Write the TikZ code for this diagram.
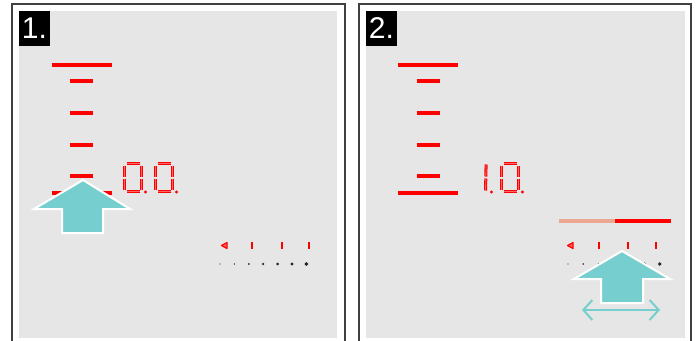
\documentclass[tikz,border=0pt]{standalone}
\usepackage{fontspec}
\setmainfont{Liberation Sans}
\usetikzlibrary{arrows.meta}

\definecolor{panelgray}{RGB}{230,230,230}
\definecolor{hintteal}{RGB}{118,207,206}
\definecolor{salmonbar}{RGB}{234,168,146}

\tikzset{
  frame/.style={draw=black!75, line width=1.5pt},
  screen/.style={fill=panelgray},
  stepnum/.style={fill=black, text=white, font=\fontsize{30}{30}\selectfont,
    inner sep=0pt, minimum width=31pt, minimum height=35pt},
  levelbar/.style={red, line width=4pt},
  seg/.style={draw=red, line width=1.1pt, double=red!60, double distance=0.8pt},
  tickmark/.style={red, line width=2pt},
  hint/.style={fill=hintteal, draw=white, line width=2pt, line join=miter},
  slide/.style={draw=hintteal, line width=2pt,
    {Straight Barb[length=9pt,width=20pt]}-{Straight Barb[length=9pt,width=20pt]}},
}

% seven-segment zero, top-left segment centre at (#1,#2)
\newcommand{\segzero}[2]{%
  \begin{scope}[shift={(#1,#2)}]
    \draw[seg] (2,0) -- (15,0);
    \draw[seg] (17,2) -- (17,13);
    \draw[seg] (17,15) -- (17,26);
    \draw[seg] (2,28) -- (15,28);
    \draw[seg] (0,15) -- (0,26);
    \draw[seg] (0,2) -- (0,13);
    \fill[red] (21,28.5) circle (1.6);
  \end{scope}}

% seven-segment one
\newcommand{\segone}[2]{%
  \begin{scope}[shift={(#1,#2)}]
    \draw[seg] (0.6,1) -- (0.3,13);
    \draw[seg] (0.3,15) -- (0,27);
    \fill[red] (6,28.5) circle (1.6);
  \end{scope}}

\begin{document}
\begin{tikzpicture}[x=1pt, y=-1pt]
    \useasboundingbox (0,0) rectangle (696,340);
    \clip (0,0) rectangle (696,340);

    % Panels
    \draw[frame] (12,4) rectangle (345,360);
    \fill[screen] (19,11) rectangle (337,338);
    \draw[frame] (359,4) rectangle (691,360);
    \fill[screen] (366,11) rectangle (685,338);
    \node[stepnum] (step1) at (34.5,28.5) {1.};
    \node[stepnum] (step2) at (381.5,28.5) {2.};

    % Level scale, panel 1
    \draw[levelbar] (52,65) -- (112,65);
    \foreach \y in {80.5,113,145,176}
        \draw[levelbar] (70,\y) -- (93,\y);
    \draw[levelbar] (52,193) -- (112,193);

    % Level scale, panel 2
    \draw[levelbar] (398,65) -- (458,65);
    \foreach \y in {80.5,113,145,176}
        \draw[levelbar] (417,\y) -- (440,\y);
    \draw[levelbar] (398,193) -- (458,193);

    % Display values
    \segzero{124.5}{163.5}
    \segzero{155.5}{163.5}
    \segone{485.5}{163.5}
    \segzero{501.5}{163.5}

    % Slider bar, panel 2
    \draw[salmonbar, line width=4pt] (559,221) -- (615,221);
    \draw[red, line width=4pt] (615,221) -- (671,221);

    % Tick rows
    \fill[red!60, draw=red, line width=1.2pt, line join=round]
        (221.5,245.5) -- (227,242.5) -- (227,248.5) -- cycle;
    \foreach \x in {252,282,309}
        \draw[tickmark] (\x,241.5) -- (\x,249);
    \fill[red!60, draw=red, line width=1.2pt, line join=round]
        (567.5,245.5) -- (573,242.5) -- (573,248.5) -- cycle;
    \foreach \x in {599,628,656}
        \draw[tickmark] (\x,241.5) -- (\x,249);

    % Dots
    \foreach \i in {0,...,6} {
        \fill[black!85] (220+14.4*\i,264) circle ({0.6+0.22*\i});
        \fill[black!85] (568+15.3*\i,264) circle ({0.6+0.22*\i});
    }

    % Hint arrows
    \draw[hint] (83,180) -- (130,209) -- (103,209) -- (103,233)
        -- (62,233) -- (62,209) -- (34,209) -- cycle;
    \draw[hint] (622,251) -- (670,279) -- (643,279) -- (643,303)
        -- (601,303) -- (601,279) -- (574,279) -- cycle;

    % Slide gesture
    \coordinate (slideL) at (582,310);
    \coordinate (slideR) at (660,310);
    \draw[slide] (slideL) -- (slideR);
\end{tikzpicture}
\end{document}
